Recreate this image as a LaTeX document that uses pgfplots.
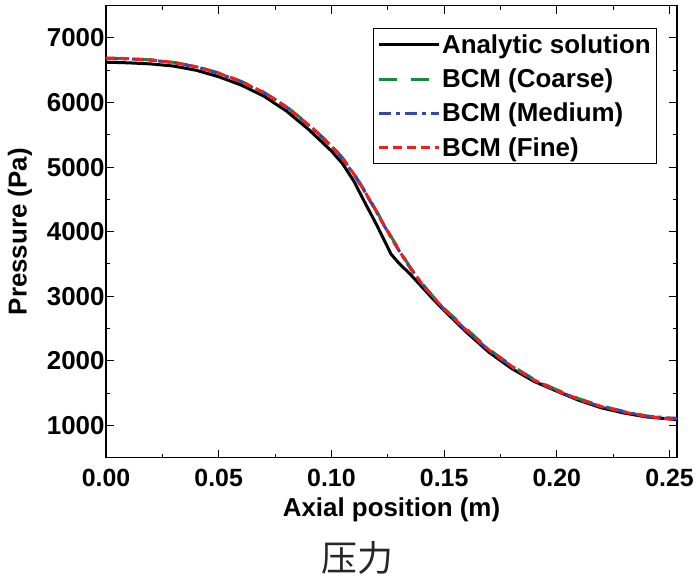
\documentclass[border=0pt]{standalone}
\usepackage{pgfplots}
\pgfplotsset{compat=1.18}
\usepackage{fontspec}
\setmainfont{Liberation Sans}
\newfontfamily\cjk{Noto Sans CJK SC}
\definecolor{cgreen}{RGB}{20,140,60}
\definecolor{cblue}{RGB}{50,70,180}
\definecolor{cred}{RGB}{240,30,30}
\begin{document}
\begin{tikzpicture}
\begin{axis}[
  scale only axis, width=571bp, height=452bp,
  xmin=0, xmax=0.2533, ymin=500, ymax=7500,
  xtick={0,0.05,...,0.25}, minor x tick num=1,
  ytick={1000,2000,...,7000}, minor y tick num=1,
  tick align=inside, major tick length=8bp, minor tick length=4bp,
  axis line style={line width=1.2bp}, every tick/.style={line width=1bp, black},
  font=\fontsize{25}{28}\selectfont\bfseries,
  /pgf/number format/assume math mode=true,
  xticklabel style={yshift=-8bp, /pgf/number format/.cd, fixed, fixed zerofill, precision=2},
  yticklabel style={font=\fontsize{26}{28}\selectfont\bfseries, xshift=2bp, /pgf/number format/.cd, set thousands separator={}},
  xlabel={Axial position (m)}, ylabel={Pressure (Pa)},
  xlabel style={font=\fontsize{26}{28}\selectfont\bfseries, yshift=-4bp},
  ylabel style={font=\fontsize{26}{28}\selectfont\bfseries, yshift=8bp},
  legend cell align=left,
  legend style={at={(0.467,0.95)}, anchor=north west, draw=black, line width=0.8bp,
    font=\fontsize{26}{29}\selectfont\bfseries, inner sep=4bp, row sep=10bp},
  legend image code/.code={\draw[#1] (0bp,0bp) -- (60bp,0bp);},
]
\coordinate (O) at (rel axis cs:0,0);
\addplot[black, line width=3bp] coordinates {
(0.000,6625) (0.010,6615) (0.020,6598) (0.030,6565) (0.040,6500) (0.050,6400)
(0.060,6270) (0.070,6100) (0.080,5870) (0.090,5580) (0.100,5250) (0.105,5050)
(0.110,4780) (0.115,4440) (0.120,4110) (0.1265,3650) (0.130,3510) (0.135,3340)
(0.140,3150) (0.145,2960) (0.150,2780) (0.160,2440) (0.170,2130) (0.180,1880)
(0.190,1680) (0.200,1530) (0.210,1385) (0.220,1270) (0.230,1190) (0.240,1130)
(0.2533,1090)};
\addlegendentry{Analytic solution}
\addplot[cgreen, line width=3bp, dash pattern=on 18bp off 14bp] coordinates {
(0.000,6685) (0.010,6678) (0.020,6660) (0.030,6622) (0.040,6558) (0.050,6460)
(0.060,6328) (0.070,6160) (0.080,5940) (0.090,5655) (0.100,5340) (0.105,5140)
(0.110,4900) (0.115,4620) (0.120,4320) (0.125,4010) (0.130,3720) (0.135,3445)
(0.140,3205) (0.145,3000) (0.150,2810) (0.160,2490) (0.170,2175) (0.180,1925)
(0.190,1710) (0.200,1550) (0.210,1410) (0.220,1300) (0.230,1215) (0.240,1145)
(0.250,1110) (0.2533,1105)};
\addlegendentry{BCM (Coarse)}
\addplot[cblue, line width=3bp, dash pattern=on 12bp off 5bp on 4bp off 5bp] coordinates {
(0.000,6682) (0.010,6676) (0.020,6657) (0.030,6618) (0.040,6552) (0.050,6452)
(0.060,6320) (0.070,6150) (0.080,5930) (0.090,5645) (0.100,5325) (0.105,5125)
(0.110,4885) (0.115,4605) (0.120,4305) (0.125,3995) (0.130,3705) (0.135,3435)
(0.140,3195) (0.145,2990) (0.150,2800) (0.160,2465) (0.170,2160) (0.180,1910)
(0.190,1698) (0.200,1538) (0.210,1398) (0.220,1288) (0.230,1210) (0.240,1140)
(0.245,1130) (0.250,1115) (0.2533,1110)};
\addlegendentry{BCM (Medium)}
\addplot[cred, line width=3bp, dash pattern=on 9bp off 5bp] coordinates {
(0.000,6690) (0.010,6680) (0.020,6660) (0.030,6620) (0.040,6555) (0.050,6455)
(0.060,6325) (0.070,6155) (0.080,5935) (0.090,5650) (0.100,5330) (0.105,5130)
(0.110,4890) (0.115,4610) (0.120,4310) (0.125,4000) (0.130,3710) (0.135,3440)
(0.140,3200) (0.145,2995) (0.150,2800) (0.160,2470) (0.170,2165) (0.180,1915)
(0.190,1700) (0.200,1540) (0.210,1400) (0.220,1290) (0.230,1205) (0.240,1140)
(0.250,1100) (0.2533,1095)};
\addlegendentry{BCM (Fine)}
\end{axis}
\node[font=\cjk\fontsize{36}{40}\selectfont, text=black!85] at ([shift={(251bp,-100bp)}]O) {压力};
\pgfresetboundingbox
\path[use as bounding box] (O) ++(-106bp,-123.3bp) rectangle ++(697bp,581bp);
\end{tikzpicture}
\end{document}
